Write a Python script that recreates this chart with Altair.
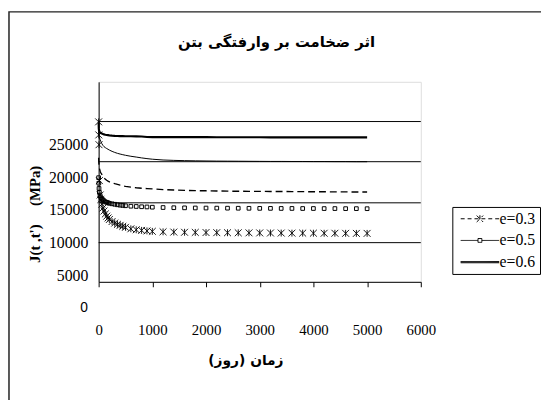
import altair as alt
import pandas as pd

# ---- data ----
t_days = [0, 3, 7, 14, 28, 40, 60, 80, 100, 125, 150, 175, 200, 250, 300, 350, 400, 450, 500,
          600, 700, 800, 900, 1000, 1200, 1400, 1600, 1800, 2000, 2200, 2400, 2600, 2800, 3000,
          3200, 3400, 3600, 3800, 4000, 4200, 4400, 4600, 4800, 5000]

# asterisk markers (lowest curve)
curve_star = [28500, 26500, 25000, 19500, 17300, 16600, 15900, 15300, 14850,
              14400, 14050, 13780, 13550,
              13230, 13000, 12800, 12650, 12500, 12350,
              12120, 11970, 11880, 11800, 11730,
              11660, 11620, 11590, 11570, 11550, 11530, 11520, 11510, 11500, 11490,
              11480, 11470, 11460, 11460, 11450, 11440, 11440, 11430, 11420, 11420]
# square markers
curve_square = [19950, 19100, 18300, 17700, 17200, 16900, 16700, 16550, 16400,
                16250, 16180, 16100, 16030,
                15950, 15880, 15800, 15740, 15700, 15650,
                15580, 15540, 15500, 15470, 15430,
                15380, 15350, 15330, 15310, 15300, 15290, 15280, 15270, 15260, 15250,
                15250, 15240, 15240, 15230, 15230, 15220, 15220, 15210, 15210, 15200]
# dashed line
curve_dash = [23000, 22400, 21900, 21400, 20950, 20700, 20450, 20200, 19950,
              19720, 19550, 19420, 19320,
              19170, 19040, 18920, 18800, 18700, 18620,
              18500, 18410, 18340, 18280, 18230,
              18130, 18060, 18010, 17970, 17940, 17910, 17890, 17870, 17860, 17850,
              17840, 17830, 17820, 17810, 17800, 17790, 17780, 17770, 17760, 17750]
# thin solid line
curve_thin = [27000, 26700, 26400, 26100, 25750, 25500, 25150, 24900, 24700,
              24550, 24420, 24300, 24180,
              23980, 23820, 23680, 23570, 23470, 23380,
              23230, 23110, 22980, 22870, 22780,
              22660, 22600, 22560, 22530, 22510, 22490, 22480, 22470, 22460, 22450,
              22440, 22440, 22430, 22430, 22420, 22420, 22410, 22410, 22400, 22400]
# thick solid line
curve_thick = [28400, 27500, 27200, 27000, 26850, 26780, 26700, 26640, 26580,
               26530, 26490, 26460, 26430,
               26390, 26360, 26340, 26320, 26310, 26300,
               26290, 26280, 26260, 26180, 26160,
               26160, 26160, 26150, 26150, 26150, 26140, 26140, 26140, 26140, 26140,
               26130, 26130, 26130, 26130, 26130, 26130, 26130, 26130, 26130, 26130]

legend_labels = ["e=0.3", "e=0.5", "e=0.6"]
x_tick_values = [0, 1000, 2000, 3000, 4000, 5000, 6000]
y_label_values = [5000, 10000, 15000, 20000, 25000]
y_grid_values = [10000, 16100, 22400, 28550]
y_origin_label = [0]

title_text = "اثر ضخامت بر وارفتگی بتن"
x_title = "زمان (روز)"
y_title = "J(t\u00a0,t')\u00a0\u00a0\u00a0\u00a0\u00a0(MPa)"

# ---- table ----
curves = {"star": curve_star, "square": curve_square, "dash": curve_dash,
          "thin": curve_thin, "thick": curve_thick}
rows = [{"t": t, "J": v, "curve": name}
        for name, vals in curves.items() for t, v in zip(t_days, vals)]
df = pd.DataFrame(rows)

x_scale = alt.Scale(domain=[0, 6000], nice=False, zero=False)
y_scale = alt.Scale(domain=[4000, 34630], nice=False, zero=False)

x_axis = alt.Axis(values=x_tick_values, format="d", grid=False, domainColor="black",
                  tickColor="black", tickSize=5, labelFont="Liberation Serif",
                  labelFontSize=15, labelColor="black", labelPadding=36,
                  labelFlush=False, labelOverlap=False,
                  title=x_title, titleFont="DejaVu Sans", titleFontSize=14,
                  titleFontWeight="bold", titleColor="black", titleX=149, titleY=80,
                  titleBaseline="middle", titleAlign="center")
y_axis = alt.Axis(values=y_label_values, format="d", grid=False, domainColor="black",
                  ticks=False, tickSize=0, labelFont="Liberation Serif", labelFontSize=16,
                  labelColor="black", labelPadding=11, labelFlush=False,
                  title=y_title, titleFont="Liberation Serif", titleFontSize=15,
                  titleFontWeight="bold", titleColor="black", titleX=-65, titleY=134,
                  titleAngle=270, titleBaseline="middle", titleAlign="center")

X = alt.X("t:Q", scale=x_scale, axis=x_axis)
Y = alt.Y("J:Q", scale=y_scale, axis=y_axis)

border = alt.Chart(pd.DataFrame({"k": [0]})).mark_rect(
    fillOpacity=0, stroke="#222222", strokeWidth=1.5
).encode(x=alt.value(-91), x2=alt.value(900), y=alt.value(-71), y2=alt.value(900))

grid = alt.Chart(pd.DataFrame({"g": y_grid_values})).mark_rule(
    color="black", strokeWidth=1
).encode(y=alt.Y("g:Q", scale=y_scale, axis=y_axis))

base = alt.Chart(df)
line_dash = base.transform_filter(alt.datum.curve == "dash").mark_line(
    color="black", strokeWidth=1.4, strokeDash=[7, 4]
).encode(x=X, y=Y)
line_thin = base.transform_filter(alt.datum.curve == "thin").mark_line(
    color="black", strokeWidth=1
).encode(x=X, y=Y)
line_thick = base.transform_filter(alt.datum.curve == "thick").mark_line(
    color="black", strokeWidth=2.2
).encode(x=X, y=Y)

asterisk_path = "M-1,-1L1,1M-1,1L1,-1M0,-1L0,1"
marks_star = base.transform_filter(alt.datum.curve == "star").mark_point(
    shape=asterisk_path, size=49, filled=False, color="black", strokeWidth=0.9, opacity=1
).encode(x=X, y=Y)
marks_square = base.transform_filter(alt.datum.curve == "square").mark_point(
    shape="square", size=14, filled=False, color="black", strokeWidth=1, opacity=1
).encode(x=X, y=Y)

zero_label = alt.Chart(pd.DataFrame({"v": y_origin_label, "s": ["0"]})).mark_text(
    align="right", baseline="middle", font="Liberation Sans", fontSize=14, color="black"
).encode(y=alt.Y("v:Q", scale=y_scale, axis=y_axis), x=alt.value(-11), text="s:N")

legend_paths = [
    "M-3,0H3M-0.5,-0.5L0.5,0.5M-0.5,0.5L0.5,-0.5M0,-0.55V0.55",
    "M-3,0H-0.3M0.3,0H3M-0.3,-0.3H0.3V0.3H-0.3Z",
    "M-3,-0.1H3M-3,0H3M-3,0.1H3",
]
legend_dashes = [[4, 3], [1, 0], [1, 0]]

leg = alt.Legend(title=None, orient="none", legendX=359, legendY=127,
                 symbolSize=169, symbolOffset=16, labelOffset=12,
                 labelFont="Liberation Serif", labelFontSize=16, labelColor="black",
                 strokeColor="black", fillColor="white", padding=4, rowPadding=6,
                 symbolStrokeWidth=1)

legend_layer = base.transform_filter(alt.datum.t < 0).mark_point(
    filled=False, color="black", strokeWidth=1, opacity=1
).encode(
    x=X, y=Y,
    shape=alt.Shape("curve:N", scale=alt.Scale(domain=legend_labels, range=legend_paths), legend=leg),
    strokeDash=alt.StrokeDash("curve:N", scale=alt.Scale(domain=legend_labels, range=legend_dashes), legend=leg),
)

chart = alt.layer(
    border, grid, line_dash, line_thin, line_thick, marks_star, marks_square,
    zero_label, legend_layer
).properties(
    width=327, height=203,
    title=alt.TitleParams(text=title_text, font="DejaVu Sans", fontSize=15,
                          fontWeight="bold", color="black", anchor="middle",
                          frame="group", offset=0, baseline="middle", dy=46, dx=17),
    autosize=alt.AutoSizeParams(type="none"),
    padding={"left": 92, "top": 72, "right": 122, "bottom": 117},
).configure_view(stroke="#8c8c8c", strokeWidth=1.5).configure(background="white")

chart.save("out.html", embed_options={"renderer": "svg", "actions": False})
